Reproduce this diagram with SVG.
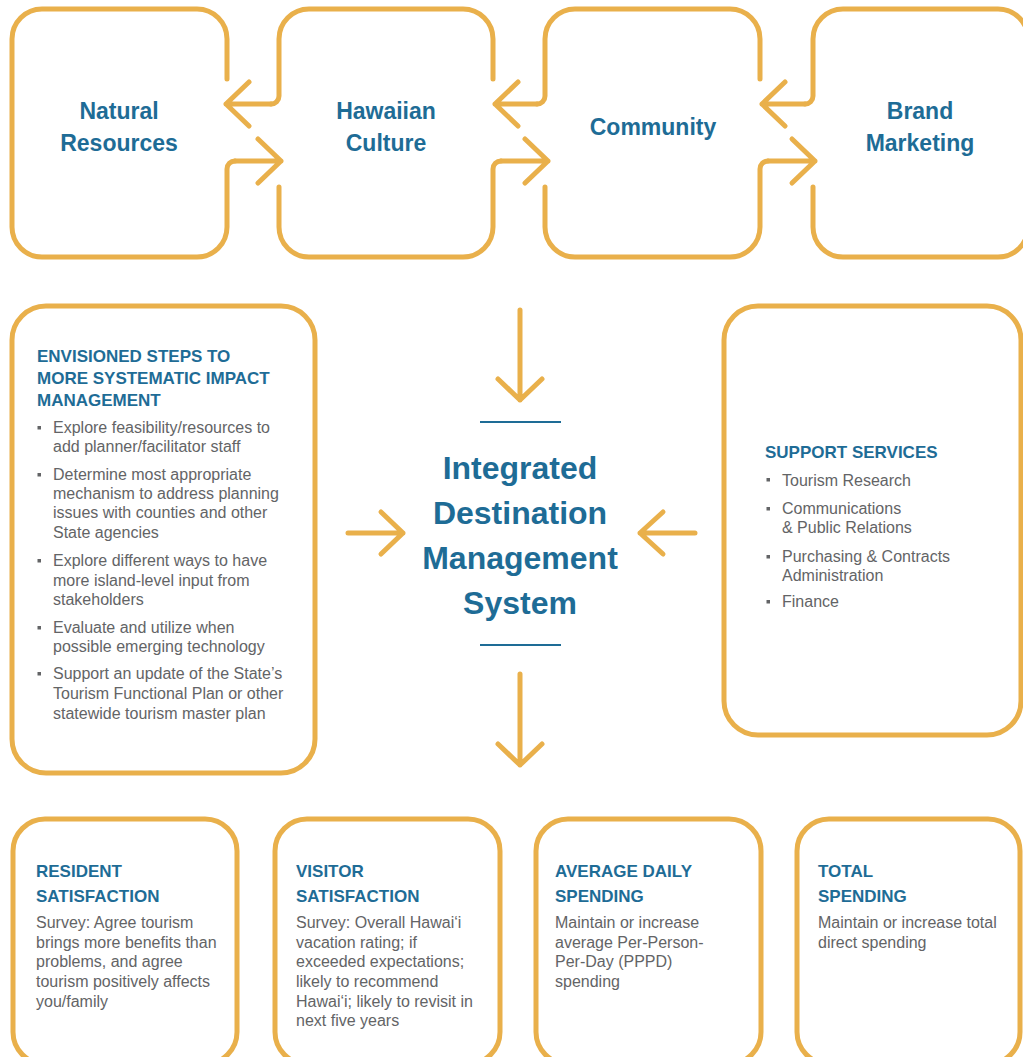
<svg xmlns="http://www.w3.org/2000/svg" width="1023" height="1057" viewBox="0 0 1023 1057">
<style>
.ol{fill:none;stroke:#E9B04B;stroke-width:5;stroke-linecap:round;stroke-linejoin:round}
.t1{font-family:"Liberation Sans",Arial,sans-serif;font-weight:700;font-size:23px;fill:#1E6C96;text-anchor:middle}
.tc{font-family:"Liberation Sans",Arial,sans-serif;font-weight:700;font-size:32px;fill:#1E6C96;text-anchor:middle}
.h{font-family:"Liberation Sans",Arial,sans-serif;font-weight:700;font-size:17px;fill:#1E6C96}
.b{font-family:"Liberation Sans",Arial,sans-serif;font-size:16px;fill:#636466}
.bl{fill:#636466}
.rule{stroke:#1E6C96;stroke-width:2;fill:none}
</style>
<rect width="1023" height="1057" fill="#ffffff"/>

<g id="natural-resources">
<path class="ol" d="M 227 79 V 39 A 30 30 0 0 0 197 9 H 42 A 30 30 0 0 0 12 39 V 227 A 30 30 0 0 0 42 257 H 197 A 30 30 0 0 0 227 227 V 169 A 8 8 0 0 1 235 161"/>
<text class="t1" x="119" y="119">Natural</text>
<text class="t1" x="119" y="151">Resources</text>
</g>

<g id="hawaiian-culture">
<path class="ol" d="M 271 104 A 8 8 0 0 0 279 96 V 39 A 30 30 0 0 1 309 9 H 463 A 30 30 0 0 1 493 39 V 79"/>
<path class="ol" d="M 279 187 V 227 A 30 30 0 0 0 309 257 H 463 A 30 30 0 0 0 493 227 V 169 A 8 8 0 0 1 501 161"/>
<text class="t1" x="386" y="119">Hawaiian</text>
<text class="t1" x="386" y="151">Culture</text>
</g>

<g id="community">
<path class="ol" d="M 537 104 A 8 8 0 0 0 545 96 V 39 A 30 30 0 0 1 575 9 H 730 A 30 30 0 0 1 760 39 V 79"/>
<path class="ol" d="M 545 187 V 227 A 30 30 0 0 0 575 257 H 730 A 30 30 0 0 0 760 227 V 169 A 8 8 0 0 1 768 161"/>
<text class="t1" x="653" y="135">Community</text>
</g>

<g id="brand-marketing">
<path class="ol" d="M 805 104 A 8 8 0 0 0 813 96 V 39 A 30 30 0 0 1 843 9 H 998 A 30 30 0 0 1 1028 39 V 227 A 30 30 0 0 1 998 257 H 843 A 30 30 0 0 1 813 227 V 187"/>
<text class="t1" x="920" y="119">Brand</text>
<text class="t1" x="920" y="151">Marketing</text>
</g>

<g id="connectors">
<path class="ol" d="M 235 161 H 281 M 258 139 L 281 161 L 258 183"/>
<path class="ol" d="M 271 104 H 226 M 249 82 L 226 104 L 249 126"/>
<path class="ol" d="M 501 161 H 548 M 525 139 L 548 161 L 525 183"/>
<path class="ol" d="M 537 104 H 495 M 518 82 L 495 104 L 518 126"/>
<path class="ol" d="M 768 161 H 815 M 792 139 L 815 161 L 792 183"/>
<path class="ol" d="M 805 104 H 762 M 785 82 L 762 104 L 785 126"/>
<path class="ol" d="M 520 310 V 400 M 498 379 L 520 400 L 542 379"/>
<path class="ol" d="M 520 674 V 765 M 498 744 L 520 765 L 542 744"/>
<path class="ol" d="M 348 533 H 403 M 381 512 L 403 533 L 381 554"/>
<path class="ol" d="M 695 533 H 640 M 663 512 L 640 533 L 663 554"/>
</g>

<g id="idms">
<path class="rule" d="M 480 422 H 561 M 480 645 H 561"/>
<text class="tc" x="520" y="479">Integrated</text>
<text class="tc" x="520" y="524">Destination</text>
<text class="tc" x="520" y="569">Management</text>
<text class="tc" x="520" y="614">System</text>
</g>

<g id="envisioned-steps">
<rect class="ol" x="12" y="306" width="303" height="467" rx="34"/>
<text class="h" x="37" y="362">ENVISIONED STEPS TO</text>
<text class="h" x="37" y="384">MORE SYSTEMATIC IMPACT</text>
<text class="h" x="37" y="406">MANAGEMENT</text>
<rect class="bl" x="37.5" y="426" width="3.5" height="3.5"/>
<text class="b" x="53" y="433">Explore feasibility/resources to</text>
<text class="b" x="53" y="452">add planner/facilitator staff</text>
<rect class="bl" x="37.5" y="473" width="3.5" height="3.5"/>
<text class="b" x="53" y="480">Determine most appropriate</text>
<text class="b" x="53" y="499">mechanism to address planning</text>
<text class="b" x="53" y="518">issues with counties and other</text>
<text class="b" x="53" y="538">State agencies</text>
<rect class="bl" x="37.5" y="559" width="3.5" height="3.5"/>
<text class="b" x="53" y="566">Explore different ways to have</text>
<text class="b" x="53" y="586">more island-level input from</text>
<text class="b" x="53" y="605">stakeholders</text>
<rect class="bl" x="37.5" y="626" width="3.5" height="3.5"/>
<text class="b" x="53" y="633">Evaluate and utilize when</text>
<text class="b" x="53" y="652">possible emerging technology</text>
<rect class="bl" x="37.5" y="672" width="3.5" height="3.5"/>
<text class="b" x="53" y="679">Support an update of the State’s</text>
<text class="b" x="53" y="699">Tourism Functional Plan or other</text>
<text class="b" x="53" y="719">statewide tourism master plan</text>
</g>

<g id="support-services">
<rect class="ol" x="724" y="306" width="297" height="429" rx="34"/>
<text class="h" x="765" y="458">SUPPORT SERVICES</text>
<rect class="bl" x="766.5" y="478" width="3.5" height="3.5"/>
<text class="b" x="782" y="486">Tourism Research</text>
<rect class="bl" x="766.5" y="507" width="3.5" height="3.5"/>
<text class="b" x="782" y="514">Communications</text>
<text class="b" x="782" y="533">&amp; Public Relations</text>
<rect class="bl" x="766.5" y="555" width="3.5" height="3.5"/>
<text class="b" x="782" y="562">Purchasing &amp; Contracts</text>
<text class="b" x="782" y="581">Administration</text>
<rect class="bl" x="766.5" y="600" width="3.5" height="3.5"/>
<text class="b" x="782" y="607">Finance</text>
</g>

<g id="resident-satisfaction">
<rect class="ol" x="13" y="819" width="224" height="245" rx="32"/>
<text class="h" x="36" y="877">RESIDENT</text>
<text class="h" x="36" y="902">SATISFACTION</text>
<text class="b" x="36" y="928">Survey: Agree tourism</text>
<text class="b" x="36" y="948">brings more benefits than</text>
<text class="b" x="36" y="967">problems, and agree</text>
<text class="b" x="36" y="987">tourism positively affects</text>
<text class="b" x="36" y="1007">you/family</text>
</g>

<g id="visitor-satisfaction">
<rect class="ol" x="275" y="819" width="225" height="245" rx="32"/>
<text class="h" x="296" y="877">VISITOR</text>
<text class="h" x="296" y="902">SATISFACTION</text>
<text class="b" x="296" y="928">Survey: Overall Hawai‘i</text>
<text class="b" x="296" y="948">vacation rating; if</text>
<text class="b" x="296" y="967">exceeded expectations;</text>
<text class="b" x="296" y="987">likely to recommend</text>
<text class="b" x="296" y="1007">Hawai‘i; likely to revisit in</text>
<text class="b" x="296" y="1026">next five years</text>
</g>

<g id="average-daily-spending">
<rect class="ol" x="536" y="819" width="225" height="245" rx="32"/>
<text class="h" x="555" y="877">AVERAGE DAILY</text>
<text class="h" x="555" y="902">SPENDING</text>
<text class="b" x="555" y="928">Maintain or increase</text>
<text class="b" x="555" y="948">average Per-Person-</text>
<text class="b" x="555" y="967">Per-Day (PPPD)</text>
<text class="b" x="555" y="987">spending</text>
</g>

<g id="total-spending">
<rect class="ol" x="797" y="819" width="223" height="245" rx="32"/>
<text class="h" x="818" y="877">TOTAL</text>
<text class="h" x="818" y="902">SPENDING</text>
<text class="b" x="818" y="928">Maintain or increase total</text>
<text class="b" x="818" y="948">direct spending</text>
</g>
</svg>
